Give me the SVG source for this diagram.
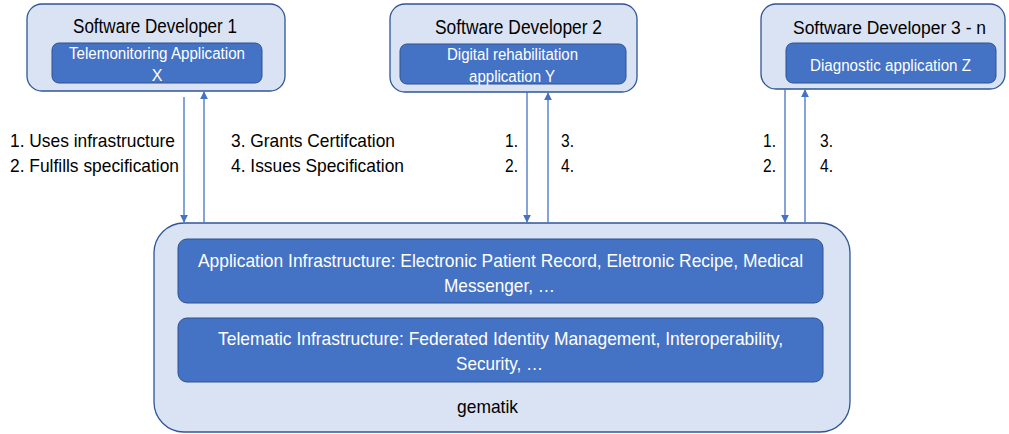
<svg xmlns="http://www.w3.org/2000/svg" width="1009" height="434" viewBox="0 0 1009 434">
<style>
.outer{fill:#DAE3F3;stroke:#2F5597;stroke-width:1.3}
.inner{fill:#4472C4;stroke:#2F528F;stroke-width:1}
.t{font-family:"Liberation Sans",Arial,sans-serif;fill:#000}
.w{font-family:"Liberation Sans",Arial,sans-serif;fill:#fff}
.c{stroke:#4472C4;stroke-width:1.3;fill:none}
</style>
<defs>
<marker id="ah" viewBox="0 0 10 10" refX="9" refY="5" markerWidth="8" markerHeight="8" markerUnits="userSpaceOnUse" orient="auto">
<path d="M0,0 L10,5 L0,10 z" fill="#4472C4"/>
</marker>
</defs>
<rect width="1009" height="434" fill="#fff"/>
<g id="dev1">
<rect class="outer" x="27" y="4" width="258" height="87" rx="15"/>
<rect class="inner" x="52" y="43" width="210" height="40" rx="7"/>
<text class="t" x="73" y="33" font-size="20" textLength="164" lengthAdjust="spacingAndGlyphs">Software Developer 1</text>
<text class="w" x="69" y="59" font-size="16" textLength="176" lengthAdjust="spacingAndGlyphs">Telemonitoring Application</text>
<text class="w" x="157" y="81" font-size="16" text-anchor="middle">X</text>
</g>
<g id="dev2">
<rect class="outer" x="390" y="4" width="247" height="88" rx="15"/>
<rect class="inner" x="400" y="44" width="226" height="40" rx="7"/>
<text class="t" x="435" y="34" font-size="20" textLength="167" lengthAdjust="spacingAndGlyphs">Software Developer 2</text>
<text class="w" x="447" y="60" font-size="16" textLength="131" lengthAdjust="spacingAndGlyphs">Digital rehabilitation</text>
<text class="w" x="469" y="82" font-size="16" textLength="86" lengthAdjust="spacingAndGlyphs">application Y</text>
</g>
<g id="dev3">
<rect class="outer" x="761" y="4" width="244" height="85" rx="15"/>
<rect class="inner" x="786" y="43" width="210" height="40" rx="7"/>
<text class="t" x="793" y="34" font-size="18" textLength="193" lengthAdjust="spacingAndGlyphs">Software Developer 3 - n</text>
<text class="w" x="810" y="71" font-size="16" textLength="161" lengthAdjust="spacingAndGlyphs">Diagnostic application Z</text>
</g>
<g id="gematik">
<rect class="outer" x="154" y="223" width="696" height="209" rx="30"/>
<rect class="inner" x="178" y="239" width="645" height="64" rx="9"/>
<rect class="inner" x="178" y="318" width="645" height="64" rx="9"/>
<text class="w" x="198" y="267" font-size="19" textLength="605" lengthAdjust="spacingAndGlyphs">Application Infrastructure: Electronic Patient Record, Eletronic Recipe, Medical</text>
<text class="w" x="444" y="292" font-size="19" textLength="111" lengthAdjust="spacingAndGlyphs">Messenger, …</text>
<text class="w" x="218" y="345" font-size="19" textLength="565" lengthAdjust="spacingAndGlyphs">Telematic Infrastructure: Federated Identity Management, Interoperability,</text>
<text class="w" x="456" y="370" font-size="19" textLength="87" lengthAdjust="spacingAndGlyphs">Security, …</text>
<text class="t" x="457" y="413" font-size="19" textLength="61" lengthAdjust="spacingAndGlyphs">gematik</text>
</g>
<g id="connectors">
<line class="c" x1="184" y1="97" x2="184" y2="222" marker-end="url(#ah)"/>
<line class="c" x1="204" y1="222" x2="204" y2="92" marker-end="url(#ah)"/>
<line class="c" x1="527" y1="92" x2="527" y2="222" marker-end="url(#ah)"/>
<line class="c" x1="548" y1="222" x2="548" y2="93" marker-end="url(#ah)"/>
<line class="c" x1="785" y1="89" x2="785" y2="222" marker-end="url(#ah)"/>
<line class="c" x1="805" y1="222" x2="805" y2="90" marker-end="url(#ah)"/>
</g>
<g id="labels">
<text class="t" x="10" y="147" font-size="19" textLength="165" lengthAdjust="spacingAndGlyphs">1. Uses infrastructure</text>
<text class="t" x="10" y="172" font-size="19" textLength="169" lengthAdjust="spacingAndGlyphs">2. Fulfills specification</text>
<text class="t" x="231" y="147" font-size="19" textLength="164" lengthAdjust="spacingAndGlyphs">3. Grants Certifcation</text>
<text class="t" x="231" y="172" font-size="19" textLength="173" lengthAdjust="spacingAndGlyphs">4. Issues Specification</text>
<text class="t" x="505" y="147" font-size="19" textLength="13" lengthAdjust="spacingAndGlyphs">1.</text>
<text class="t" x="505" y="172" font-size="19" textLength="13" lengthAdjust="spacingAndGlyphs">2.</text>
<text class="t" x="561" y="147" font-size="19" textLength="13" lengthAdjust="spacingAndGlyphs">3.</text>
<text class="t" x="561" y="172" font-size="19" textLength="13" lengthAdjust="spacingAndGlyphs">4.</text>
<text class="t" x="763" y="147" font-size="19" textLength="13" lengthAdjust="spacingAndGlyphs">1.</text>
<text class="t" x="763" y="172" font-size="19" textLength="13" lengthAdjust="spacingAndGlyphs">2.</text>
<text class="t" x="820" y="147" font-size="19" textLength="13" lengthAdjust="spacingAndGlyphs">3.</text>
<text class="t" x="820" y="172" font-size="19" textLength="13" lengthAdjust="spacingAndGlyphs">4.</text>
</g>
</svg>
